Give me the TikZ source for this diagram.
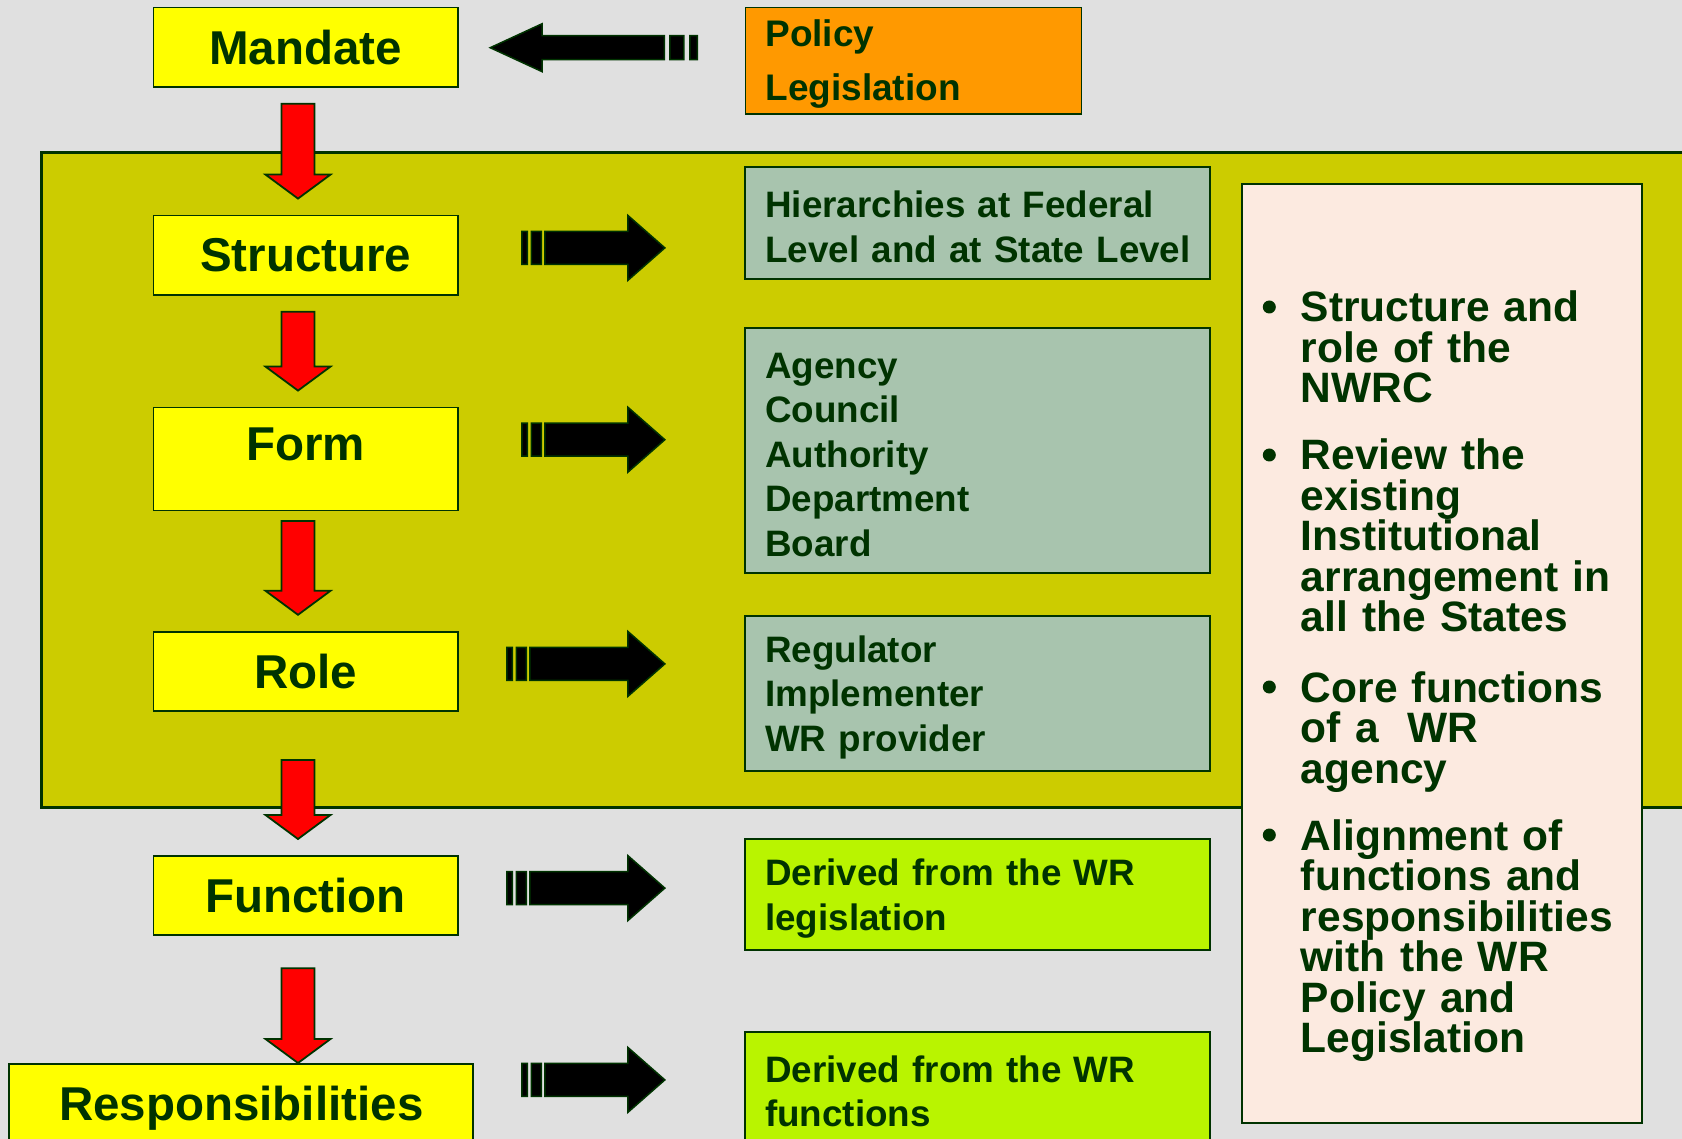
\documentclass[tikz,border=0pt]{standalone}
\usepackage{fontspec}
\setmainfont{Liberation Sans}
\usepackage{tikz}
\usetikzlibrary{positioning,calc}
\definecolor{textgreen}{RGB}{0,51,0}
\definecolor{bggray}{RGB}{224,224,224}
\definecolor{bandolive}{RGB}{204,204,0}
\definecolor{boxyellow}{RGB}{255,255,0}
\definecolor{policyorange}{RGB}{255,153,0}
\definecolor{sagegreen}{RGB}{168,196,174}
\definecolor{limegreen}{RGB}{185,244,0}
\definecolor{notepeach}{RGB}{252,234,224}

\begin{document}
\begin{tikzpicture}[x=1pt,y=-1pt,
    stage/.style={rectangle, draw=textgreen, line width=1.8pt, fill=boxyellow, text=textgreen, minimum width=304.6pt, minimum height=79.4pt, font=\fontsize{47.5pt}{57pt}\selectfont\bfseries},
    infobox/.style={rectangle, draw=textgreen, line width=1.8pt, text=textgreen, text width=425pt, inner xsep=20pt, align=left, execute at begin node={\rule{0pt}{34pt}}, font=\fontsize{36.8pt}{44.5pt}\selectfont\bfseries},
    noteitem/.style={text=textgreen, text width=340pt, align=left, inner sep=0pt, anchor=base west, font=\fontsize{42.5pt}{40.5pt}\selectfont\bfseries},
    redarr/.style={draw=textgreen, line width=1.8pt, fill=red, to path={let \p1=(\tikztostart), \p2=(\tikztotarget) in
        (\x1-16.5pt,\y1) -- (\x1+16.5pt,\y1) -- (\x1+16.5pt,\y2+24pt) -- (\x1+32.5pt,\y2+24pt)
        -- (\x1,\y2) -- (\x1-32.5pt,\y2+24pt) -- (\x1-16.5pt,\y2+24pt) -- cycle}},
    rightarr/.style={draw=textgreen, line width=1.5pt, fill=black, to path={let \p1=(\tikztostart), \p2=(\tikztotarget) in
        (\x1,\y1-16.5pt) rectangle (\x1+5.5pt,\y1+16.5pt)
        (\x1+9.5pt,\y1-16.5pt) rectangle (\x1+19.5pt,\y1+16.5pt)
        (\x1+23pt,\y1-16.5pt) -- (\x2-37pt,\y1-16.5pt) -- (\x2-37pt,\y1-32.5pt) -- (\x2,\y1)
        -- (\x2-37pt,\y1+32.5pt) -- (\x2-37pt,\y1+16.5pt) -- (\x1+23pt,\y1+16.5pt) -- cycle}},
    leftarr/.style={draw=textgreen, line width=1.5pt, fill=black, to path={let \p1=(\tikztostart), \p2=(\tikztotarget) in
        (\x1,\y1-12pt) rectangle (\x1-7.5pt,\y1+12pt)
        (\x1-13.5pt,\y1-12pt) rectangle (\x1-27.5pt,\y1+12pt)
        (\x1-33pt,\y1-12pt) -- (\x2+52pt,\y1-12pt) -- (\x2+52pt,\y1-24pt) -- (\x2,\y1)
        -- (\x2+52pt,\y1+24pt) -- (\x2+52pt,\y1+12pt) -- (\x1-33pt,\y1+12pt) -- cycle}}]

    \useasboundingbox (0,0) rectangle (1682,1139);
    \fill[bggray] (0,0) rectangle (1682,1139);
    % olive band behind the middle stages
    \draw[draw=textgreen, line width=2.5pt, fill=bandolive] (41.7,152.3) rectangle (1700,807.7);

    % left column
    \node[stage] (mandate) at (305.7,47.2) {Mandate};
    \node[stage, below=126.8pt of mandate] (structure) {Structure};
    \node[stage, below=110.8pt of structure, minimum height=103pt, text depth=30pt] (form) {Form};
    \node[stage, below=119.4pt of form] (role) {Role};
    \node[stage, below=143pt of role] (function) {Function};
    \node[stage, below=126.8pt of function, xshift=-64.4pt, minimum width=464pt, text depth=0pt] (responsibilities) {Responsibilities};

    % right column
    \node[infobox, fill=policyorange, text width=296pt, minimum height=106.2pt, font=\fontsize{37pt}{54pt}\selectfont\bfseries] (policy) at (913.4,60.6) {Policy\\Legislation};
    \node[infobox, fill=sagegreen, minimum height=111.6pt] (levels) at (977.75,223.1) {Hierarchies at Federal\\\mbox{Level and at State Level}};
    \node[infobox, fill=sagegreen, minimum height=244.6pt] (forms) at (977.75,450.5) {Agency\\Council\\Authority\\Department\\Board};
    \node[infobox, fill=sagegreen, minimum height=155.6pt] (roles) at (977.75,693.5) {Regulator\\Implementer\\WR provider};
    \node[infobox, fill=limegreen, minimum height=110.7pt] (funcsrc) at (977.75,894.7) {Derived from the WR\\legislation};
    \node[infobox, fill=limegreen, minimum height=111pt] (respsrc) at (977.75,1087.5) {Derived from the WR\\functions};

    % notes
    \node[rectangle, draw=textgreen, line width=1.8pt, fill=notepeach, minimum width=400pt, minimum height=938.7pt] (notes) at (1441.7,653.4) {};
    \node[noteitem] (note1) at (1300.7,322) {Structure and\\role of the\\NWRC};
    \node[noteitem] (note2) at (1300.7,470) {Review the\\existing\\Institutional\\arrangement in\\all the States};
    \node[noteitem] (note3) at (1300.7,702) {Core functions\\of a\ \ WR\\agency};
    \node[noteitem] (note4) at (1300.7,850) {Alignment of\\functions and\\responsibilities\\with the WR\\Policy and\\Legislation};
    \foreach \n in {1,...,4}
        \fill[textgreen] ($(note\n.base west)+(-31.4,-15)$) circle (6.5pt);

    % arrows
    \draw[leftarr] ($(policy.west)+(-47.2,-12.9)$) to ($(mandate.east)+(31.3,0)$);
    \draw[redarr] ($(mandate.south)+(-7.7,16)$) to ($(structure.north)+(-7.7,-16)$);
    \draw[redarr] ($(structure.south)+(-7.7,16)$) to ($(form.north)+(-7.7,-16)$);
    \draw[redarr] ($(form.south)+(-7.7,9.6)$) to ($(role.north)+(-7.7,-16)$);
    \draw[redarr] ($(role.south)+(-7.7,48)$) to ($(function.north)+(-7.7,-16)$);
    \draw[redarr] ($(function.south)+(-7.7,32)$) to (responsibilities.north);
    \draw[rightarr] ($(structure.east)+(63,-7.3)$) to ($(levels.west)+(-79.5,0)$);
    \draw[rightarr] ($(form.east)+(63,-19.3)$) to ($(forms.west)+(-79.5,0)$);
    \draw[rightarr] ($(role.east)+(48,-7.5)$) to ($(roles.west)+(-79.5,0)$);
    \draw[rightarr] ($(function.east)+(48,-7.5)$) to ($(funcsrc.west)+(-79.5,0)$);
    \draw[rightarr] ($(responsibilities.east)+(47.7,-23.7)$) to ($(respsrc.west)+(-79.5,0)$);
\end{tikzpicture}
\end{document}
